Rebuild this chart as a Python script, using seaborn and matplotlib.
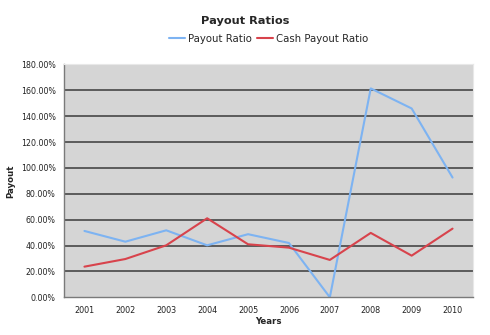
import matplotlib
matplotlib.use("Agg")
import matplotlib.pyplot as plt
import seaborn as sns
import pandas as pd
from matplotlib.ticker import FixedLocator, FuncFormatter

years = ["2001", "2002", "2003", "2004", "2005", "2006", "2007", "2008", "2009", "2010"]
payout_ratio = [51.3, 43.0, 51.8, 40.2, 48.8, 42.0, 0.0, 161.5, 146.0, 92.6]
cash_payout_ratio = [23.7, 29.6, 40.2, 61.1, 41.0, 38.4, 28.9, 49.8, 32.2, 53.1]
series_names = ["Payout Ratio", "Cash Payout Ratio"]
yticks = [0, 20, 40, 60, 80, 100, 120, 140, 160, 180]

df = pd.DataFrame({
    "Year": list(range(len(years))) * 2,
    "Value": payout_ratio + cash_payout_ratio,
    "Series": [series_names[0]] * len(years) + [series_names[1]] * len(years),
})

sns.set_style("white")
plt.rcParams["font.family"] = ["DejaVu Sans"]

fig = plt.figure(figsize=(4.9, 3.35), dpi=100)
ax = fig.add_axes([0.1306, 0.1125, 0.8347, 0.695])
ax.set_facecolor("#d5d5d5")

palette = {series_names[0]: "#7db3f2", series_names[1]: "#d8434c"}
sns.lineplot(data=df, x="Year", y="Value", hue="Series", palette=palette,
             linewidth=1.5, ax=ax, legend=True)

ax.set_xlim(-0.5, len(years) - 0.5)
ax.set_ylim(0, 180)
ax.set_yticks(yticks)
ax.yaxis.set_major_formatter(FuncFormatter(lambda v, p: f"{v:.2f}%"))
ax.set_xticks(range(len(years)))
ax.set_xticklabels(years)
ax.xaxis.set_minor_locator(FixedLocator([i - 0.5 for i in range(len(years) + 1)]))
ax.tick_params(axis="x", which="major", length=0, labelsize=5.8, pad=6)
ax.tick_params(axis="x", which="minor", length=3, width=0.8, color="#555555")
ax.tick_params(axis="y", length=3, width=0.8, color="#555555", labelsize=5.7, pad=3)
for lab in ax.get_xticklabels() + ax.get_yticklabels():
    lab.set_color("#222222")

for v in yticks[1:-1]:
    ax.axhline(v, color="#3a3a3a", linewidth=1.1, zorder=1)
ax.set_axisbelow(True)

for s in ["left", "bottom"]:
    ax.spines[s].set_color("#7a7a7a")
    ax.spines[s].set_linewidth(1.0)
for s in ["top", "right"]:
    ax.spines[s].set_color("#e8e8e8")
    ax.spines[s].set_linewidth(0.8)

ax.set_xlabel("Years", fontsize=6.2, fontweight="bold")
ax.xaxis.set_label_coords(0.5, -0.085)
ax.set_ylabel("Payout", fontsize=6.2, fontweight="bold")
ax.yaxis.set_label_coords(-0.12, 0.5)

leg = ax.legend(loc="center", bbox_to_anchor=(0.5, 1.11), ncol=2, frameon=False,
                fontsize=7.3, handlelength=1.6, handletextpad=0.3, columnspacing=0.5,
                borderaxespad=0)
fig.suptitle("Payout Ratios", x=0.5, y=0.952, fontsize=8.2, fontweight="bold")

fig.savefig("out.png", dpi=100, facecolor="white")
